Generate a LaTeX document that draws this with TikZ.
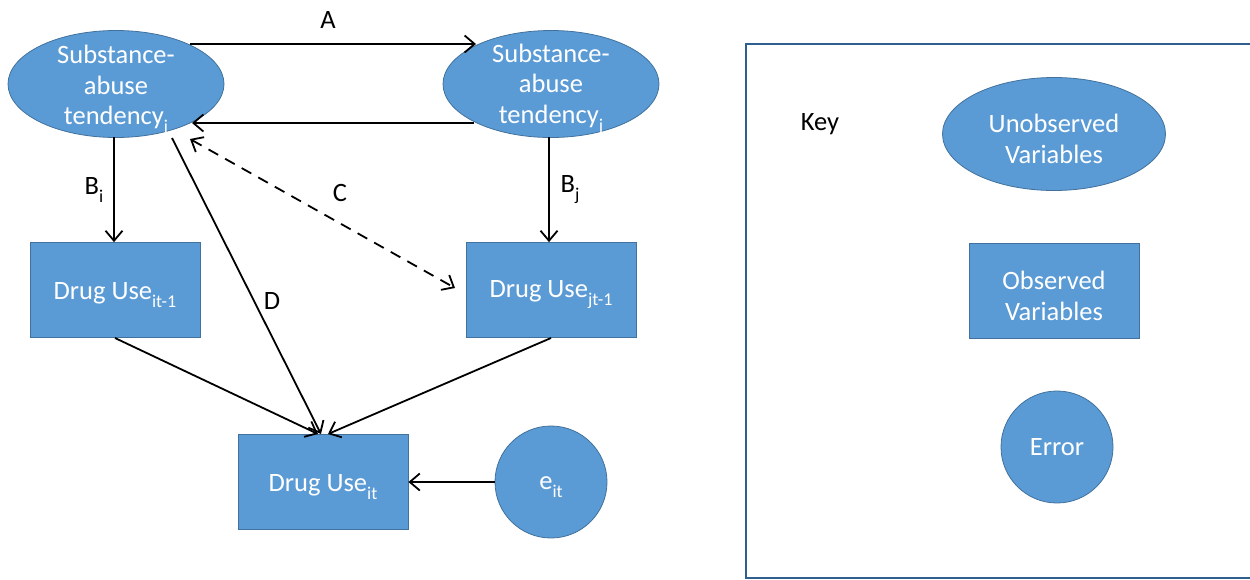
\documentclass[tikz,border=0pt]{standalone}
\usepackage{fontspec}
\setmainfont{Carlito}
\usetikzlibrary{shapes.geometric,arrows.meta}
\definecolor{nodefill}{HTML}{5B9BD5}
\definecolor{nodeline}{HTML}{41719C}
\definecolor{keyline}{HTML}{2F5F8F}
\newcommand{\subtxt}[1]{\raisebox{-0.3em}{\fontsize{18}{18}\selectfont #1}}
\tikzset{
  x=1pt,y=-1pt,
  base/.style={fill=nodefill,draw=nodeline,line width=0.8pt,inner sep=0pt},
  intext/.style={text=white,font=\fontsize{26.5}{30.5}\selectfont,align=center,
    inner sep=0pt,yshift=-5pt},
  latent/.style={base,ellipse,minimum width=216pt,minimum height=107pt},
  obs/.style={base,rectangle,minimum width=170pt,minimum height=95pt},
  err/.style={base,circle,minimum size=112pt},
  conn/.style={line width=1.8pt,-{Straight Barb[length=10pt,width=17pt,line width=1.8pt]}},
  lbl/.style={font=\fontsize{26.5}{30}\selectfont,text=black,inner sep=0pt}
}
\begin{document}
\begin{tikzpicture}
\useasboundingbox (0,0) rectangle (1250,579);
% main nodes
\node[latent,label={[intext]center:{Substance-\\abuse\\tendency\subtxt{i}}}] (li) at (116,84) {};
\node[latent,label={[intext]center:{Substance-\\abuse\\tendency\subtxt{j}}}] (lj) at (551,84) {};
\node[obs,label={[intext]center:{Drug Use\subtxt{it-1}}}] (di) at (115,290) {};
\node[obs,label={[intext]center:{Drug Use\subtxt{jt-1}}}] (dj) at (551,290) {};
\node[obs,label={[intext]center:{Drug Use\subtxt{it}}}] (dt) at (323,482) {};
\node[err,label={[intext]center:{e\subtxt{it}}}] (e) at (551,482) {};
% connectors
\coordinate (a1) at (190,44);
\coordinate (a2) at (476,44);
\draw[conn] (a1) -- (a2);
\node[lbl] (la) at (328,20) {A};
\coordinate (r1) at (474,123);
\coordinate (r2) at (192,123);
\draw[conn] (r1) -- (r2);
\draw[conn] (114,137) -- (di.north -| 114,0);
\node[lbl] (lbi) at (94,190) {B\subtxt{i}};
\draw[conn] (549,137) -- (dj.north -| 549,0);
\node[lbl] (lbj) at (570,190) {B\subtxt{j}};
\coordinate (c1) at (190,139);
\coordinate (c2) at (455,288);
\draw[line width=1.8pt,dash pattern=on 11pt off 8pt,
  {Straight Barb[length=10pt,width=17pt,line width=1.8pt]}-{Straight Barb[length=10pt,width=17pt,line width=1.8pt]}] (c1) -- (c2);
\node[lbl] (lc) at (340,193) {C};
\coordinate (d1) at (172,138);
\draw[conn] (d1) -- (321,434);
\node[lbl] (ld) at (272,301) {D};
\draw[conn] (115,338) -- (318,434);
\draw[conn] (551,338) -- (328,434);
\draw[conn] (e.west) -- (dt.east);
% key
\draw[keyline,line width=2pt] (1254,44) -- (746,44) -- (746,578) -- (1254,578);
\node[lbl] (key) at (820,124) {Key};
\node[latent,minimum width=223pt,minimum height=113pt,
  label={[intext]center:{Unobserved\\Variables}}] (ku) at (1054,134) {};
\node[obs,label={[intext]center:{Observed\\Variables}}] (ko) at (1054,291) {};
\node[err,label={[intext,yshift=5pt]center:{Error}}] (ke) at (1057,447) {};
\end{tikzpicture}
\end{document}
